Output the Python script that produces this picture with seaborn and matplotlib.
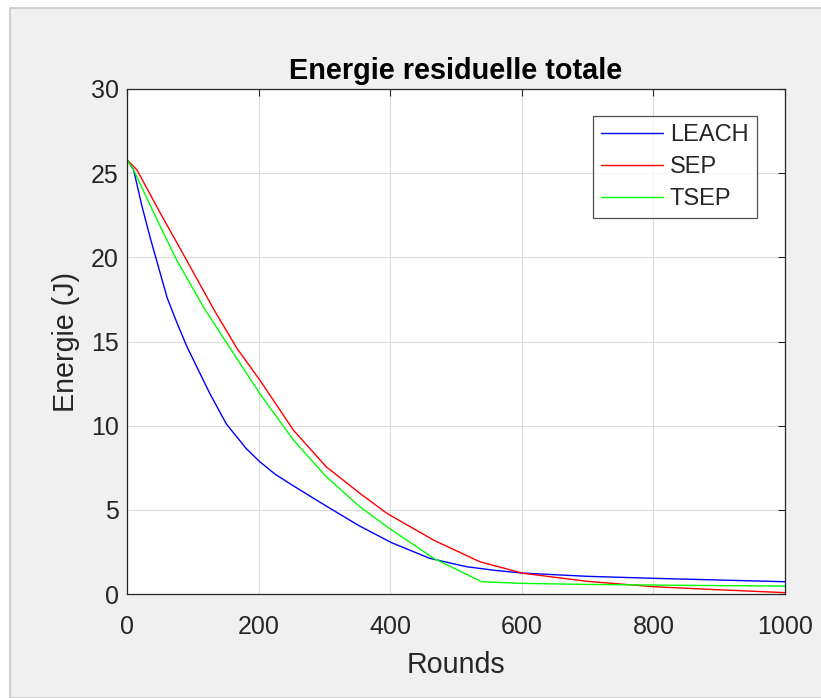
import pandas as pd
import matplotlib
matplotlib.use('Agg')
import matplotlib.pyplot as plt
import seaborn as sns
from matplotlib.patches import Rectangle

# Valeurs
leach_rounds = [0, 10, 23, 35, 48, 61, 76, 91, 101, 126, 151, 181, 202, 225, 253, 303, 353, 402,
                460, 516, 560, 602, 700, 802, 900, 1000]
leach_energy = [25.8, 25.2, 23.0, 21.2, 19.4, 17.6, 16.1, 14.7, 13.9, 11.9, 10.1, 8.65, 7.85,
                7.12, 6.42, 5.22, 4.05, 3.05, 2.12, 1.62, 1.40, 1.24, 1.05, 0.93, 0.83, 0.73]

sep_rounds = [0, 15, 51, 91, 132, 167, 202, 253, 303, 354, 395, 466, 536, 602, 700, 802, 900, 1000]
sep_energy = [25.8, 25.2, 22.6, 19.8, 16.9, 14.6, 12.7, 9.73, 7.55, 5.98, 4.79, 3.2, 1.92, 1.23,
              0.75, 0.43, 0.25, 0.08]

tsep_rounds = [0, 10, 46, 76, 117, 155, 202, 253, 303, 354, 395, 466, 539, 602, 700, 802, 900, 1000]
tsep_energy = [25.8, 25.2, 22.2, 19.8, 17.0, 14.7, 11.9, 9.14, 6.96, 5.18, 4.0, 2.12, 0.73, 0.63,
               0.57, 0.53, 0.50, 0.47]

protocols = ['LEACH', 'SEP', 'TSEP']
colors = {'LEACH': '#0000ff', 'SEP': '#ff0000', 'TSEP': '#00ff00'}

df = pd.concat([
    pd.DataFrame({'Rounds': leach_rounds, 'Energie': leach_energy, 'Protocole': 'LEACH'}),
    pd.DataFrame({'Rounds': sep_rounds, 'Energie': sep_energy, 'Protocole': 'SEP'}),
    pd.DataFrame({'Rounds': tsep_rounds, 'Energie': tsep_energy, 'Protocole': 'TSEP'}),
], ignore_index=True)

sns.set_style('white')
plt.rcParams['font.family'] = ['Liberation Sans', 'DejaVu Sans']

fig = plt.figure(figsize=(8.21, 6.98), dpi=100, facecolor='white')
# panneau gris façon MATLAB
fig.patches.append(Rectangle((10 / 821, 0), 1, 1 - 8 / 698, transform=fig.transFigure,
                             facecolor='#f0f0f0', edgecolor='#c8c8c8', linewidth=1.2, zorder=-10))

ax = fig.add_axes([127 / 821, 1 - 594 / 698, 658 / 821, 505 / 698])
ax.set_facecolor('white')

sns.lineplot(data=df, x='Rounds', y='Energie', hue='Protocole', hue_order=protocols,
             palette=colors, estimator=None, sort=False, linewidth=1.0, ax=ax)

ax.set_xlim(0, 1000)
ax.set_ylim(0, 30)
ax.set_xticks(range(0, 1001, 200))
ax.set_yticks(range(0, 31, 5))
ax.grid(True, color='#dcdcdc', linewidth=0.8)
ax.tick_params(direction='in', top=True, right=True, length=5, width=0.8,
               colors='#262626', labelsize=18, pad=6)
ax.tick_params(axis='x', pad=15)
for s in ax.spines.values():
    s.set_color('#262626')
    s.set_linewidth(0.9)

ax.set_title('Energie residuelle totale', fontsize=20.8, fontweight='bold', color='black', pad=7)
ax.set_xlabel('Rounds', fontsize=20.6, color='#262626', labelpad=9)
ax.set_ylabel('Energie (J)', fontsize=20.6, color='#262626', labelpad=8)

leg = ax.legend(loc='upper right', bbox_to_anchor=(0.957, 0.9465), fontsize=17,
                handlelength=2.6, frameon=True, fancybox=False, borderaxespad=0,
                labelspacing=0.42, handletextpad=0.3, borderpad=0.35)
leg.get_frame().set_edgecolor('#262626')
leg.get_frame().set_linewidth(0.9)
for t in leg.get_texts():
    t.set_color('#262626')

fig.savefig('out.png', dpi=100, facecolor=fig.get_facecolor())
